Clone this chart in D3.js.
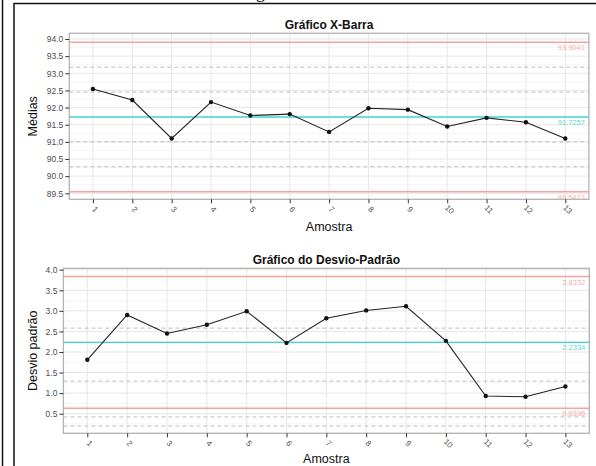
<!DOCTYPE html>
<html>
<head>
<meta charset="utf-8">
<script src="https://cdn.jsdelivr.net/npm/d3@7/dist/d3.min.js"></script>
<style>
  html, body { margin: 0; padding: 0; background: #fff; }
  svg { display: block; font-family: "Liberation Sans", Arial, sans-serif; }
</style>
</head>
<body>
<svg id="chart" width="596" height="466"></svg>
<script>
// Samples (subgroups)
const amostras = [1, 2, 3, 4, 5, 6, 7, 8, 9, 10, 11, 12, 13];

// X-bar chart: subgroup means and limits
const medias = [92.54, 92.22, 91.10, 92.16, 91.77, 91.81, 91.29, 91.98, 91.94, 91.45, 91.70, 91.57, 91.10];
const xbarLimites = { lsc: 93.9041, lc: 91.7257, lic: 89.5473 };
const xbarZonas = [93.178, 92.4518, 90.9996, 90.2735];
const xbarTicks = [89.5, 90.0, 90.5, 91.0, 91.5, 92.0, 92.5, 93.0, 93.5, 94.0];

// S chart: subgroup standard deviations and limits
const desvios = [1.81, 2.90, 2.45, 2.66, 2.99, 2.22, 2.82, 3.01, 3.11, 2.27, 0.93, 0.91, 1.16];
const sLimites = { lsc: 3.8332, lc: 2.2334, lic: 0.6336 };
const sZonas = [2.58, 1.29, 0.42, 0.20];
const sTicks = [0.5, 1.0, 1.5, 2.0, 2.5, 3.0, 3.5, 4.0];

const svg = d3.select("#chart");
const corLimite = "#f7a29c";
const corCentro = "#3fd3d3";

// Document frame around the figure
svg.append("line").attr("x1", 2.5).attr("x2", 2.5).attr("y1", 0).attr("y2", 466)
  .attr("stroke", "#111").attr("stroke-width", 1.5);
svg.append("rect").attr("x", 14).attr("y", 3.5).attr("width", 600).attr("height", 500)
  .attr("fill", "none").attr("stroke", "#111").attr("stroke-width", 1.5);
svg.append("text").attr("x", 256).attr("y", -2).attr("font-family", "Liberation Serif, serif")
  .attr("font-size", 18).attr("fill", "#111").text("g");

function painel(cfg) {
  const g = svg.append("g");
  const { left, right, top, bottom } = cfg.box;
  const x = d3.scaleLinear().domain([0.4, amostras.length + 0.6]).range([left, right]);
  const y = d3.scaleLinear().domain(cfg.yDomain).range([bottom, top]);

  // minor horizontal grid
  const minor = [];
  for (let i = 0; i < cfg.ticks.length - 1; i++) minor.push((cfg.ticks[i] + cfg.ticks[i + 1]) / 2);
  const step = cfg.ticks[1] - cfg.ticks[0];
  if (cfg.ticks[0] - step / 2 > cfg.yDomain[0]) minor.push(cfg.ticks[0] - step / 2);
  if (cfg.ticks[cfg.ticks.length - 1] + step / 2 < cfg.yDomain[1]) minor.push(cfg.ticks[cfg.ticks.length - 1] + step / 2);
  g.selectAll(".minor").data(minor).join("line")
    .attr("x1", left).attr("x2", right).attr("y1", d => y(d)).attr("y2", d => y(d))
    .attr("stroke", "#f3f3f3").attr("stroke-width", 0.8);
  // major grid
  g.selectAll(".hmaj").data(cfg.ticks).join("line")
    .attr("x1", left).attr("x2", right).attr("y1", d => y(d)).attr("y2", d => y(d))
    .attr("stroke", "#e6e6e6").attr("stroke-width", 1);
  g.selectAll(".vmaj").data(amostras).join("line")
    .attr("x1", d => x(d)).attr("x2", d => x(d)).attr("y1", top).attr("y2", bottom)
    .attr("stroke", "#e6e6e6").attr("stroke-width", 1);

  // zone lines (dashed)
  g.selectAll(".zona").data(cfg.zonas).join("line")
    .attr("x1", left).attr("x2", right).attr("y1", d => y(d)).attr("y2", d => y(d))
    .attr("stroke", "#bdbdbd").attr("stroke-width", 1).attr("stroke-dasharray", "4,3");

  // control limits and centre line
  const linhas = [
    { v: cfg.lim.lsc, c: corLimite },
    { v: cfg.lim.lc, c: corCentro },
    { v: cfg.lim.lic, c: corLimite }
  ];
  g.selectAll(".lim").data(linhas).join("line")
    .attr("x1", left).attr("x2", right).attr("y1", d => y(d.v)).attr("y2", d => y(d.v))
    .attr("stroke", d => d.c).attr("stroke-width", 1.4);
  g.selectAll(".limtxt").data(linhas).join("text")
    .attr("x", right - 4).attr("y", d => y(d.v) + 8)
    .attr("text-anchor", "end").attr("font-size", 7.5)
    .attr("fill", d => d.c).attr("opacity", 0.85)
    .text(d => d.v.toFixed(4));

  // series
  const line = d3.line().x((d, i) => x(amostras[i])).y(d => y(d));
  g.append("path").datum(cfg.valores).attr("d", line)
    .attr("fill", "none").attr("stroke", "#222").attr("stroke-width", 1.1);
  g.selectAll(".pt").data(cfg.valores).join("circle")
    .attr("cx", (d, i) => x(amostras[i])).attr("cy", d => y(d)).attr("r", 2.2)
    .attr("fill", "#111");

  // panel border
  g.append("rect").attr("x", left).attr("y", top).attr("width", right - left).attr("height", bottom - top)
    .attr("fill", "none").attr("stroke", "#b3b3b3").attr("stroke-width", 1.3);

  // y axis
  const yAxis = g.append("g").attr("transform", `translate(${left},0)`)
    .call(d3.axisLeft(y).tickValues(cfg.ticks).tickFormat(d3.format(".1f")).tickSize(4).tickPadding(2));
  yAxis.select(".domain").remove();
  yAxis.selectAll(".tick line").attr("stroke", "#333");
  yAxis.selectAll(".tick text").attr("font-size", 8.5).attr("fill", "#4d4d4d")
    .attr("font-family", "Liberation Sans, Arial, sans-serif");

  // x axis
  const xAxis = g.append("g").attr("transform", `translate(0,${bottom})`)
    .call(d3.axisBottom(x).tickValues(amostras).tickFormat(d3.format("d")).tickSize(4).tickPadding(2));
  xAxis.select(".domain").remove();
  xAxis.selectAll(".tick line").attr("stroke", "#333");
  xAxis.selectAll(".tick text").attr("font-size", 8).attr("fill", "#4d4d4d")
    .attr("font-family", "Liberation Sans, Arial, sans-serif")
    .attr("text-anchor", "middle").attr("dy", 0)
    .attr("transform", "translate(0,12) rotate(45)").attr("y", 0);

  // titles
  const cx = (left + right) / 2;
  g.append("text").attr("x", cx).attr("y", top - 4).attr("text-anchor", "middle")
    .attr("font-size", 12).attr("font-weight", "bold").attr("fill", "#111").text(cfg.titulo);
  g.append("text").attr("x", cx).attr("y", bottom + cfg.xlabDy).attr("text-anchor", "middle")
    .attr("font-size", 12.5).attr("fill", "#111").text("Amostra");
  g.append("text").attr("transform", `translate(${cfg.ylabX},${(top + bottom) / 2}) rotate(-90)`)
    .attr("text-anchor", "middle").attr("font-size", 12.5).attr("fill", "#111").text(cfg.ylab);
}

painel({
  box: { left: 69.3, right: 588.9, top: 33.3, bottom: 199.3 },
  yDomain: [89.325, 94.166],
  ticks: xbarTicks,
  zonas: xbarZonas,
  lim: xbarLimites,
  valores: medias,
  titulo: "Gráfico X-Barra",
  ylab: "Médias",
  ylabX: 37,
  xlabDy: 31.5
});

painel({
  box: { left: 63.4, right: 589.3, top: 268.3, bottom: 433.3 },
  yDomain: [0.023, 4.034],
  ticks: sTicks,
  zonas: sZonas,
  lim: sLimites,
  valores: desvios,
  titulo: "Gráfico do Desvio-Padrão",
  ylab: "Desvio padrão",
  ylabX: 37,
  xlabDy: 30
});
</script>
</body>
</html>
